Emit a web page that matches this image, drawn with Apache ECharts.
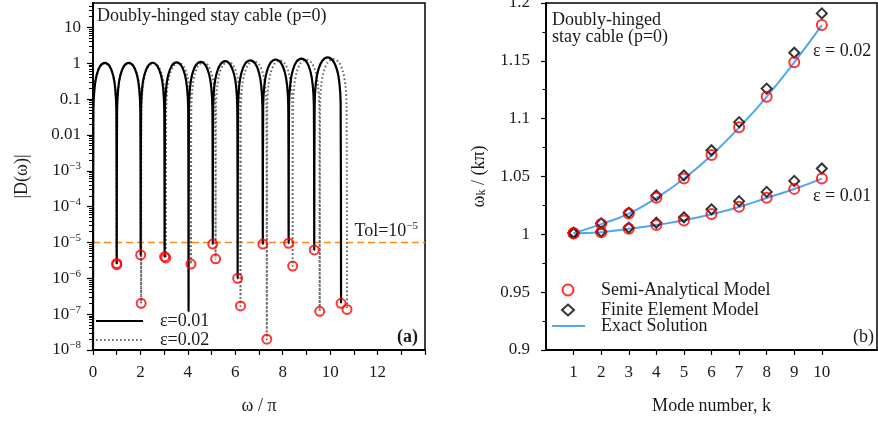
<!DOCTYPE html>
<html>
<head>
<meta charset="utf-8">
<script src="https://cdn.jsdelivr.net/npm/echarts@6/dist/echarts.min.js"></script>
<style>
  html, body { margin: 0; padding: 0; background: #fff; }
  #chart { width: 878px; height: 423px; }
</style>
</head>
<body>
<div id="chart"></div>
<script>
// ---------- Panel (a): |D(omega)| against omega/pi, log scale ----------
// Roots of |D| (omega/pi, |D| at the root); first entry is the start at omega = 0
const rootsEps1 = [[0, 1e-9], [1.00, 2.6e-6], [2.01, 4.5e-6], [3.02, 4.0e-6], [4.03, 1.2e-7], [5.05, 9.0e-6],
  [6.10, 1.0e-6], [7.16, 9.0e-6], [8.25, 9.5e-6], [9.33, 6.2e-6], [10.46, 2.0e-7]];
const rootsEps2 = [[0, 1e-9], [1.00, 2.4e-6], [2.03, 2.0e-7], [3.07, 3.7e-6], [4.13, 2.5e-6], [5.17, 3.5e-6],
  [6.22, 1.7e-7], [7.33, 2.0e-8], [8.42, 2.2e-6], [9.56, 1.2e-7], [10.71, 1.35e-7]];
// Which roots carry a red circle
const circledEps1 = [1, 2, 3, 5, 6, 7, 8, 9, 10];
const circledEps2 = [1, 2, 3, 4, 5, 6, 7, 8, 9, 10];

// Arches of |D| between consecutive roots, eps = 0.01
const archesEps1 = [
  [[0.015, .05], [0.06, .19], [0.15, .46], [0.3, .83], [0.5, 1.02], [0.7, .83], [0.85, .46], [0.94, .19], [0.985, .05]],
  [[1.015, .05], [1.061, .19], [1.152, .46], [1.303, .83], [1.505, 1.02], [1.707, .83], [1.859, .46], [1.949, .19], [1.995, .05]],
  [[2.025, .05], [2.071, .2], [2.162, .46], [2.313, .83], [2.515, 1.03], [2.717, .83], [2.869, .46], [2.959, .2], [3.005, .05]],
  [[3.035, .05], [3.081, .2], [3.172, .47], [3.323, .85], [3.525, 1.05], [3.727, .85], [3.879, .47], [3.969, .2], [4.015, .05]],
  [[4.045, .055], [4.091, .21], [4.183, .49], [4.336, .88], [4.54, 1.09], [4.744, .88], [4.897, .49], [4.989, .21], [5.035, .055]],
  [[5.066, .057], [5.113, .22], [5.208, .51], [5.365, .92], [5.575, 1.14], [5.785, .92], [5.943, .51], [6.037, .22], [6.084, .057]],
  [[6.116, .06], [6.164, .23], [6.259, .54], [6.418, .97], [6.63, 1.2], [6.842, .97], [7.001, .54], [7.096, .23], [7.144, .06]],
  [[7.176, .064], [7.225, .24], [7.324, .57], [7.487, 1.03], [7.705, 1.27], [7.923, 1.03], [8.087, .57], [8.185, .24], [8.234, .064]],
  [[8.266, .067], [8.315, .25], [8.412, .6], [8.574, 1.09], [8.79, 1.34], [9.006, 1.09], [9.168, .6], [9.265, .25], [9.314, .067]],
  [[9.347, .072], [9.398, .28], [9.5, .65], [9.669, 1.17], [9.895, 1.45], [10.121, 1.17], [10.291, .65], [10.392, .28], [10.443, .072]]
];
// Arches of |D| between consecutive roots, eps = 0.02
const archesEps2 = [
  [[0.015, .05], [0.06, .19], [0.15, .45], [0.3, .81], [0.5, 1.0], [0.7, .81], [0.85, .45], [0.94, .19], [0.985, .05]],
  [[1.015, .05], [1.062, .19], [1.155, .45], [1.309, .81], [1.515, 1.0], [1.721, .81], [1.876, .45], [1.968, .19], [2.015, .05]],
  [[2.046, .05], [2.092, .19], [2.186, .45], [2.342, .82], [2.55, 1.01], [2.758, .82], [2.914, .45], [3.008, .19], [3.054, .05]],
  [[3.086, .05], [3.134, .2], [3.229, .46], [3.388, .83], [3.6, 1.03], [3.812, .83], [3.971, .46], [4.066, .2], [4.114, .05]],
  [[4.146, .053], [4.192, .2], [4.286, .48], [4.442, .86], [4.65, 1.06], [4.858, .86], [5.014, .48], [5.108, .2], [5.154, .053]],
  [[5.186, .055], [5.233, .21], [5.328, .5], [5.485, .89], [5.695, 1.1], [5.905, .89], [6.063, .5], [6.157, .21], [6.204, .055]],
  [[6.237, .058], [6.287, .22], [6.387, .52], [6.553, .93], [6.775, 1.15], [6.997, .93], [7.164, .52], [7.263, .22], [7.313, .058]],
  [[7.346, .06], [7.395, .23], [7.494, .54], [7.657, .97], [7.875, 1.2], [8.093, .97], [8.257, .54], [8.355, .23], [8.404, .06]],
  [[8.437, .063], [8.488, .24], [8.591, .57], [8.762, 1.02], [8.99, 1.26], [9.218, 1.02], [9.389, .57], [9.492, .24], [9.543, .063]],
  [[9.577, .066], [9.629, .25], [9.733, .59], [9.905, 1.07], [10.135, 1.32], [10.365, 1.07], [10.538, .59], [10.641, .25], [10.693, .066]]
];
const TOL = 1e-5;
const omegaRange = [0, 14];
// Decade tick labels of the |D| axis, from 10^-8 up to 10
const decadeLabels = ['10^−8', '10^−7', '10^−6', '10^−5', '10^−4', '10^−3', '0.01', '0.1', '1', '10'];
const omegaLabels = ['0', '2', '4', '6', '8', '10', '12'];

// ---------- Panel (b): normalised frequency against mode number ----------
const modes = [1, 2, 3, 4, 5, 6, 7, 8, 9, 10];
const semiEps1 = [1.0009, 1.0017, 1.0049, 1.0080, 1.0120, 1.0175, 1.0238, 1.0316, 1.0393, 1.0483];
const semiEps2 = [1.0009, 1.0089, 1.0180, 1.0316, 1.0483, 1.0686, 1.0925, 1.1190, 1.1488, 1.1810];
const femEps1 = [1.0010, 1.0022, 1.0057, 1.0100, 1.0147, 1.0216, 1.0287, 1.0367, 1.0462, 1.0569];
const femEps2 = [1.0015, 1.0095, 1.0186, 1.0336, 1.0510, 1.0727, 1.0970, 1.1260, 1.1570, 1.1910];
const exactEps1 = [1.0009, 1.0018, 1.0048, 1.0081, 1.0121, 1.0174, 1.0237, 1.0314, 1.0392, 1.0482];
const exactEps2 = [1.0009, 1.0088, 1.0179, 1.0314, 1.0481, 1.0684, 1.0923, 1.1189, 1.1487, 1.1809];

// ---------- helpers ----------
const FONT = "'Liberation Serif', 'DejaVu Serif', serif";
const INK = '#1a1a1a';
const lg = v => Math.log10(v);

function buildCurve(roots, arches) {
  const pts = [];
  roots.forEach((r, i) => {
    pts.push(r);
    if (arches[i]) arches[i].forEach(p => pts.push(p));
  });
  return pts.map(p => [p[0], lg(p[1])]);
}
function pick(roots, idx) { return idx.map(i => [roots[i][0], lg(roots[i][1])]); }
function pairs(xs, ys) { return xs.map((x, i) => [x, ys[i]]); }
function supRich(s) {
  const parts = s.split('^');
  return parts.length > 1 ? '{b|' + parts[0] + '}{s|' + parts[1] + '}' : '{b|' + s + '}';
}

const decadeValues = decadeLabels.map((_, i) => i - 8);
const minorValues = [];
for (let d = -8; d <= 1; d++) {
  for (let m = 2; m <= 9; m++) {
    const v = d + Math.log10(m);
    if (v < 1.68) minorValues.push(v);
  }
}

const chart = echarts.init(document.getElementById('chart'), null, { renderer: 'canvas' });

const axisLineStyle = { color: '#000', width: 1.8 };
const tickStyle = { color: '#000', width: 1.2 };
const labelStyle = { fontFamily: FONT, fontSize: 17, color: INK };
const legendText = { fontFamily: FONT, fontSize: 18, color: INK, lineHeight: 16 };
const hidden = { opacity: 0 };

chart.setOption({
  animation: false,
  backgroundColor: '#fff',
  grid: [
    { left: 93, top: 3, right: 453, bottom: 73, show: true, borderColor: '#000', borderWidth: 1.5, backgroundColor: 'transparent', outerBoundsMode: 'none' },
    { left: 546, top: 3, right: 1, bottom: 73, show: true, borderColor: '#000', borderWidth: 1.5, backgroundColor: 'transparent', outerBoundsMode: 'none' }
  ],
  xAxis: [
    {
      type: 'value', gridIndex: 0, min: omegaRange[0], max: omegaRange[1], interval: 1,
      splitLine: { show: false },
      axisLine: { onZero: false, lineStyle: axisLineStyle },
      axisTick: { inside: false, length: 5, lineStyle: tickStyle },
      axisLabel: Object.assign({ margin: 14, formatter: v => (omegaLabels.indexOf(String(v)) >= 0 ? String(v) : '') }, labelStyle),
      name: 'ω / π', nameLocation: 'middle', nameGap: 47,
      nameTextStyle: { fontFamily: FONT, fontSize: 18, color: INK }
    },
    {
      type: 'value', gridIndex: 1, min: 0, max: 12,
      splitLine: { show: false },
      axisLine: { onZero: false, lineStyle: axisLineStyle },
      axisTick: { inside: false, length: 5, lineStyle: tickStyle, customValues: modes },
      axisLabel: Object.assign({ margin: 14, customValues: modes }, labelStyle),
      name: 'Mode number, k', nameLocation: 'middle', nameGap: 47,
      nameTextStyle: { fontFamily: FONT, fontSize: 18, color: INK }
    }
  ],
  yAxis: [
    {
      type: 'value', gridIndex: 0, min: -8, max: 1.68,
      splitLine: { show: false },
      axisLine: { onZero: false, lineStyle: axisLineStyle },
      axisTick: { inside: false, length: 6, lineStyle: tickStyle, customValues: decadeValues },
      axisLabel: {
        margin: 12, customValues: decadeValues,
        formatter: v => supRich(decadeLabels[Math.round(v) + 8] || ''),
        rich: {
          b: { fontFamily: FONT, fontSize: 17, color: INK, lineHeight: 20 },
          s: { fontFamily: FONT, fontSize: 11, color: INK, verticalAlign: 'top', lineHeight: 11 }
        }
      },
      name: '|D(ω)|', nameLocation: 'middle', nameGap: 62,
      nameTextStyle: { fontFamily: FONT, fontSize: 18, color: INK }
    },
    {
      type: 'value', gridIndex: 0, min: -8, max: 1.68, position: 'left', offset: 0,
      splitLine: { show: false },
      axisLine: { show: false, onZero: false },
      axisTick: { inside: false, length: 4, lineStyle: { color: '#000', width: 1 }, customValues: minorValues },
      axisLabel: { show: false }
    },
    {
      type: 'value', gridIndex: 1, min: 0.9, max: 1.2, interval: 0.05,
      splitLine: { show: false },
      axisLine: { onZero: false, lineStyle: axisLineStyle },
      axisTick: { inside: false, length: 5, lineStyle: tickStyle },
      minorTick: { show: true, splitNumber: 2, length: 3.5, lineStyle: { color: '#000', width: 1 } },
      axisLabel: Object.assign({ margin: 16 }, labelStyle),
      name: '{a|ω}{k|k}{a| / (kπ)}', nameLocation: 'middle', nameGap: 58,
      nameTextStyle: {
        rich: {
          a: { fontFamily: FONT, fontSize: 18, color: INK },
          k: { fontFamily: FONT, fontSize: 12, color: INK, verticalAlign: 'bottom', lineHeight: 12 }
        }
      }
    }
  ],
  legend: [
    {
      data: [{ name: 'ε=0.01', itemStyle: hidden }, { name: 'ε=0.02', itemStyle: hidden }],
      orient: 'vertical', left: 95, top: 312,
      itemWidth: 47, itemHeight: 10, itemGap: 1, padding: 0,
      textStyle: Object.assign({ padding: [0, 0, 0, 12] }, legendText)
    },
    {
      data: ['Semi-Analytical Model', 'Finite Element Model'],
      orient: 'vertical', left: 561, top: 281,
      itemWidth: 12, itemHeight: 11, itemGap: 2, padding: 0,
      textStyle: Object.assign({ padding: [0, 0, 0, 22] }, legendText)
    },
    {
      data: [{ name: 'Exact Solution', itemStyle: hidden }],
      orient: 'vertical', left: 551, top: 317,
      itemWidth: 33, itemHeight: 11, padding: 0,
      textStyle: Object.assign({ padding: [0, 0, 0, 11] }, legendText)
    }
  ],
  series: [
    {
      name: 'tolerance', type: 'line', xAxisIndex: 0, yAxisIndex: 0,
      data: [[omegaRange[0], lg(TOL)], [omegaRange[1], lg(TOL)]],
      symbol: 'none', lineStyle: { color: '#ff8a1c', width: 1.6, type: [7, 4] }, z: 2, silent: true
    },
    {
      name: 'ε=0.02', type: 'line', xAxisIndex: 0, yAxisIndex: 0,
      data: buildCurve(rootsEps2, archesEps2), symbol: 'none', smooth: 0.3, clip: true,
      itemStyle: { color: '#6a6a6a' },
      lineStyle: { color: '#6a6a6a', width: 2, type: [1.6, 2.4] }, z: 3
    },
    {
      name: 'ε=0.01', type: 'line', xAxisIndex: 0, yAxisIndex: 0,
      data: buildCurve(rootsEps1, archesEps1), symbol: 'none', smooth: 0.3, clip: true,
      itemStyle: { color: '#000' },
      lineStyle: { color: '#000', width: 2.2 }, z: 4
    },
    {
      name: 'roots ε=0.02', type: 'scatter', xAxisIndex: 0, yAxisIndex: 0,
      data: pick(rootsEps2, circledEps2), symbol: 'circle', symbolSize: 9,
      itemStyle: { color: 'rgba(0,0,0,0)', borderColor: '#ff0000', borderWidth: 2 }, z: 5
    },
    {
      name: 'roots ε=0.01', type: 'scatter', xAxisIndex: 0, yAxisIndex: 0,
      data: pick(rootsEps1, circledEps1), symbol: 'circle', symbolSize: 9,
      itemStyle: { color: 'rgba(0,0,0,0)', borderColor: '#ff0000', borderWidth: 2 }, z: 5
    },
    // panel (b)
    {
      name: 'Exact Solution', type: 'line', xAxisIndex: 1, yAxisIndex: 2,
      data: pairs(modes, exactEps1), symbol: 'none', smooth: true,
      itemStyle: { color: '#4fa7f2' },
      lineStyle: { color: '#4fa7f2', width: 2 }, z: 2
    },
    {
      name: 'Exact Solution', type: 'line', xAxisIndex: 1, yAxisIndex: 2,
      data: pairs(modes, exactEps2), symbol: 'none', smooth: true,
      itemStyle: { color: '#4fa7f2' },
      lineStyle: { color: '#4fa7f2', width: 2 }, z: 2
    },
    {
      name: 'Finite Element Model', type: 'scatter', xAxisIndex: 1, yAxisIndex: 2,
      data: pairs(modes, femEps1), symbol: 'diamond', symbolSize: 10,
      itemStyle: { color: 'rgba(0,0,0,0)', borderColor: '#000', borderWidth: 2 }, z: 3
    },
    {
      name: 'Finite Element Model', type: 'scatter', xAxisIndex: 1, yAxisIndex: 2,
      data: pairs(modes, femEps2), symbol: 'diamond', symbolSize: 10,
      itemStyle: { color: 'rgba(0,0,0,0)', borderColor: '#000', borderWidth: 2 }, z: 3
    },
    {
      name: 'Semi-Analytical Model', type: 'scatter', xAxisIndex: 1, yAxisIndex: 2,
      data: pairs(modes, semiEps1), symbol: 'circle', symbolSize: 10,
      itemStyle: { color: 'rgba(0,0,0,0)', borderColor: '#ff0000', borderWidth: 2 }, z: 4
    },
    {
      name: 'Semi-Analytical Model', type: 'scatter', xAxisIndex: 1, yAxisIndex: 2,
      data: pairs(modes, semiEps2), symbol: 'circle', symbolSize: 10,
      itemStyle: { color: 'rgba(0,0,0,0)', borderColor: '#ff0000', borderWidth: 2 }, z: 4
    }
  ],
  graphic: [
    { type: 'text', left: 97, top: 7, style: { text: 'Doubly-hinged stay cable (p=0)', fontFamily: FONT, fontSize: 18, fill: INK } },
    {
      type: 'text', right: 460, top: 221,
      style: {
        text: '{a|Tol=10}{s|−5}',
        rich: {
          a: { fontFamily: FONT, fontSize: 18, fill: INK, lineHeight: 21 },
          s: { fontFamily: FONT, fontSize: 11, fill: INK, verticalAlign: 'top', lineHeight: 11 }
        }
      }
    },
    { type: 'text', right: 460, top: 328, style: { text: '(a)', fontFamily: FONT, fontSize: 18, fontWeight: 'bold', fill: INK } },
    { type: 'text', left: 552, top: 11, style: { text: 'Doubly-hinged\nstay cable (p=0)', fontFamily: FONT, fontSize: 18, lineHeight: 17, fill: INK } },
    { type: 'text', left: 813, top: 42, style: { text: 'ε = 0.02', fontFamily: FONT, fontSize: 18, fill: INK } },
    { type: 'text', left: 813, top: 187, style: { text: 'ε = 0.01', fontFamily: FONT, fontSize: 18, fill: INK } },
    { type: 'text', right: 4, top: 328, style: { text: '(b)', fontFamily: FONT, fontSize: 18, fill: INK } }
  ]
});
</script>
</body>
</html>
